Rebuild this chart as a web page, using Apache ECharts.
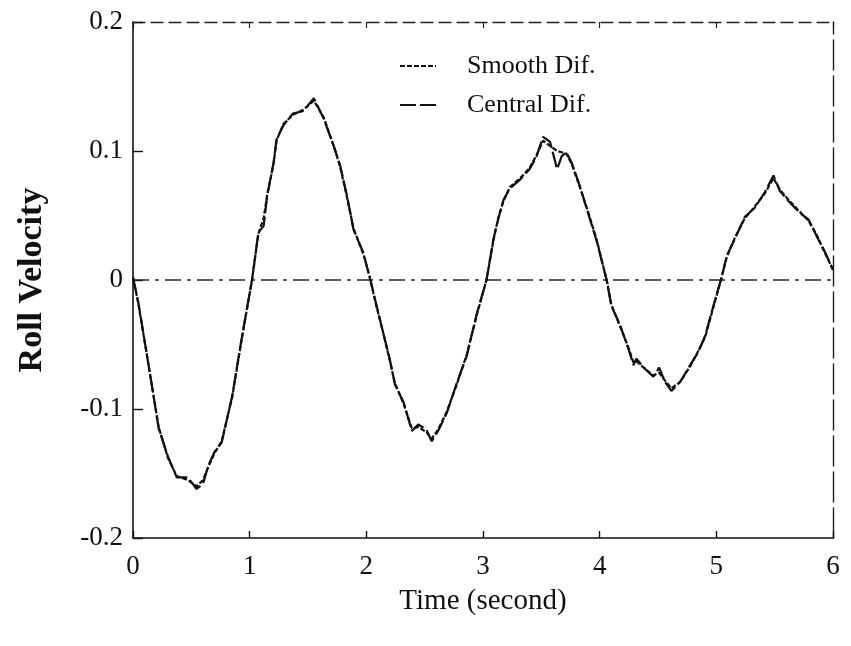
<!DOCTYPE html>
<html>
<head>
<meta charset="utf-8">
<script src="https://cdn.jsdelivr.net/npm/echarts@6/dist/echarts.min.js"></script>
<style>
  html, body { margin: 0; padding: 0; background: #fff; }
  #chart { width: 851px; height: 646px; }
</style>
</head>
<body>
<div id="chart"></div>
<script>
// Sample times (s)
var timeS = [0, 0.045, 0.13, 0.22, 0.30, 0.375, 0.47, 0.545, 0.60, 0.645, 0.70, 0.76, 0.85, 0.93, 1.02,
  1.075, 1.12, 1.15, 1.205, 1.23, 1.29, 1.37, 1.46, 1.55, 1.635, 1.72, 1.775, 1.835, 1.89, 1.975, 2.035,
  2.08, 2.145, 2.20, 2.245, 2.32, 2.39, 2.445, 2.515, 2.56, 2.615, 2.69, 2.775, 2.86, 2.95, 3.03,
  3.09, 3.13, 3.175, 3.23, 3.32, 3.40, 3.46, 3.515, 3.575, 3.635, 3.675, 3.715, 3.76, 3.83, 3.90, 3.975, 4.06,
  4.10, 4.175, 4.245, 4.29, 4.315, 4.39, 4.46, 4.51, 4.56, 4.615, 4.69, 4.775, 4.845, 4.905, 4.975, 5.045,
  5.09, 5.16, 5.245, 5.33, 5.415, 5.49, 5.545, 5.63, 5.715, 5.79, 5.86, 5.93, 6.0];

// Roll velocity from central differences
var centralDif = [0.002, -0.017, -0.064, -0.115, -0.137, -0.153, -0.153, -0.162, -0.158, -0.144, -0.133, -0.126, -0.090, -0.046, 0.0,
  0.037, 0.042, 0.065, 0.091, 0.109, 0.120, 0.129, 0.131, 0.141, 0.125, 0.104, 0.089, 0.065, 0.039, 0.021, 0.0,
  -0.017, -0.041, -0.061, -0.081, -0.095, -0.117, -0.112, -0.116, -0.125, -0.117, -0.103, -0.080, -0.059, -0.025, 0.0,
  0.032, 0.047, 0.062, 0.071, 0.078, 0.086, 0.096, 0.111, 0.107, 0.086, 0.096, 0.099, 0.091, 0.073, 0.052, 0.030, 0.0,
  -0.020, -0.035, -0.053, -0.066, -0.061, -0.069, -0.075, -0.068, -0.079, -0.086, -0.079, -0.066, -0.056, -0.043, -0.020, 0.002,
  0.019, 0.032, 0.049, 0.056, 0.068, 0.081, 0.069, 0.060, 0.052, 0.047, 0.034, 0.022, 0.008];

// Roll velocity from smoothed differences
var smoothDif = [0.002, -0.018, -0.064, -0.114, -0.138, -0.152, -0.155, -0.160, -0.155, -0.145, -0.134, -0.125, -0.091, -0.047, 0.0,
  0.036, 0.048, 0.066, 0.090, 0.108, 0.121, 0.128, 0.132, 0.139, 0.126, 0.104, 0.088, 0.064, 0.040, 0.020, 0.0,
  -0.018, -0.041, -0.062, -0.080, -0.096, -0.115, -0.114, -0.118, -0.123, -0.116, -0.102, -0.081, -0.058, -0.026, 0.0,
  0.031, 0.048, 0.061, 0.072, 0.079, 0.087, 0.097, 0.108, 0.104, 0.100, 0.099, 0.098, 0.090, 0.072, 0.053, 0.031, 0.0,
  -0.019, -0.036, -0.052, -0.064, -0.063, -0.069, -0.074, -0.072, -0.078, -0.084, -0.079, -0.067, -0.055, -0.044, -0.021, 0.002,
  0.018, 0.033, 0.048, 0.057, 0.067, 0.079, 0.070, 0.061, 0.053, 0.046, 0.035, 0.021, 0.008];

// Zero reference line
var zeroLine = [[0, 0], [6, 0]];

var xTicks = { min: 0, max: 6, interval: 1 };
var yTicks = { min: -0.2, max: 0.2, interval: 0.1 };

function pairs(t, v) {
  return t.map(function (x, i) { return [x, v[i]]; });
}

var serif = "'Liberation Serif', 'DejaVu Serif', serif";
var ink = '#111';
var chart = echarts.init(document.getElementById('chart'), null, { renderer: 'canvas' });

chart.setOption({
  backgroundColor: '#ffffff',
  animation: false,
  color: [ink, ink, ink],
  grid: { left: 133, right: 18, top: 22, bottom: 108 },
  legend: {
    orient: 'vertical',
    left: 394,
    top: 48,
    itemWidth: 36,
    itemHeight: 14,
    itemGap: 13,
    itemStyle: { opacity: 0 },
    textStyle: { fontFamily: serif, fontSize: 26, color: ink, padding: [0, 0, 0, 26] },
    data: ['Smooth Dif.', 'Central Dif.']
  },
  xAxis: [{
    type: 'value',
    position: 'bottom',
    min: xTicks.min, max: xTicks.max, interval: xTicks.interval,
    name: 'Time (second)',
    nameLocation: 'middle',
    nameGap: 49,
    nameTextStyle: { fontFamily: serif, fontSize: 29, color: ink },
    axisLine: { onZero: false, lineStyle: { color: ink, width: 1.6 } },
    axisTick: { inside: true, length: 7, lineStyle: { color: ink, width: 1.4 } },
    axisLabel: { fontFamily: serif, fontSize: 27, color: ink, margin: 15 },
    splitLine: { show: false }
  }, {
    type: 'value',
    position: 'top',
    min: xTicks.min, max: xTicks.max, interval: xTicks.interval,
    axisLine: { show: true, onZero: false, lineStyle: { color: '#222', width: 1.3, type: [12, 6] } },
    axisTick: { inside: true, length: 6, lineStyle: { color: '#222', width: 1.2 } },
    axisLabel: { show: false },
    splitLine: { show: false }
  }],
  yAxis: [{
    type: 'value',
    position: 'left',
    min: yTicks.min, max: yTicks.max, interval: yTicks.interval,
    name: 'Roll Velocity',
    nameLocation: 'middle',
    nameGap: 84,
    nameTextStyle: { fontFamily: serif, fontSize: 34, fontWeight: 'bold', color: ink },
    axisLine: { onZero: false, lineStyle: { color: ink, width: 1.6 } },
    axisTick: { inside: true, length: 10, lineStyle: { color: ink, width: 1.4 } },
    axisLabel: { fontFamily: serif, fontSize: 27, color: ink, margin: 10 },
    splitLine: { show: false }
  }, {
    type: 'value',
    position: 'right',
    min: yTicks.min, max: yTicks.max, interval: yTicks.interval,
    axisLine: { show: true, onZero: false, lineStyle: { color: '#222', width: 1.4, type: [30, 6] } },
    axisTick: { show: false },
    axisLabel: { show: false },
    splitLine: { show: false }
  }],
  series: [{
    name: 'Zero',
    type: 'line',
    data: zeroLine,
    symbol: 'none',
    silent: true,
    lineStyle: { color: '#222', width: 1.3, type: [16, 6, 4, 6] },
    z: 1
  }, {
    name: 'Smooth Dif.',
    type: 'line',
    data: pairs(timeS, smoothDif),
    symbol: 'none',
    itemStyle: { color: ink },
    lineStyle: { color: ink, width: 2.2, type: [5, 2] },
    z: 3
  }, {
    name: 'Central Dif.',
    type: 'line',
    data: pairs(timeS, centralDif),
    symbol: 'none',
    itemStyle: { color: ink },
    lineStyle: { color: ink, width: 2.2, type: [16, 4] },
    z: 2
  }]
});
</script>
</body>
</html>
